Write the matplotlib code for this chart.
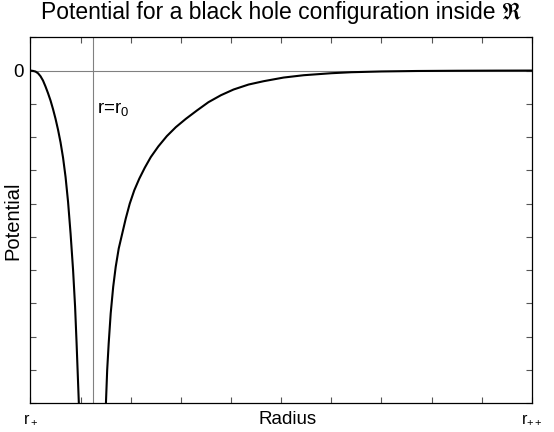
import matplotlib
matplotlib.use("Agg")
import matplotlib.pyplot as plt

plt.rcParams['font.family'] = ['Liberation Sans', 'STIXGeneral', 'DejaVu Sans']
plt.rcParams['mathtext.fontset'] = 'custom'
plt.rcParams['mathtext.rm'] = 'Liberation Sans'
plt.rcParams['mathtext.it'] = 'Liberation Sans'
plt.rcParams['mathtext.default'] = 'regular'

# values (radius and potential in tick units)
left_r = [0, 0.05, 0.10, 0.15, 0.20, 0.25, 0.30, 0.35, 0.40, 0.45, 0.50,
          0.55, 0.60, 0.65, 0.70, 0.75, 0.80, 0.85, 0.89, 0.92, 0.945, 0.965]
left_v = [0, -0.01, -0.03, -0.08, -0.17, -0.3, -0.48, -0.68, -0.9, -1.16, -1.45,
          -1.78, -2.16, -2.62, -3.2, -3.95, -4.9, -6.0, -7.1, -8.2, -9.2, -10.0]
right_r = [1.505, 1.53, 1.56, 1.60, 1.65, 1.70, 1.76, 1.83, 1.90, 1.98, 2.07,
           2.17, 2.28, 2.40, 2.55, 2.72, 2.90, 3.10, 3.32, 3.55, 3.80, 4.05,
           4.35, 4.65, 5.05, 5.45, 6.0, 6.4, 7.0, 7.7, 8.5, 9.3, 10.0]
right_v = [-10.0, -9.0, -8.2, -7.3, -6.5, -5.9, -5.35, -4.9, -4.45, -4.0, -3.6,
           -3.25, -2.92, -2.6, -2.28, -1.97, -1.70, -1.45, -1.2, -0.95, -0.74, -0.57,
           -0.42, -0.32, -0.21, -0.14, -0.08, -0.05, -0.027, -0.013, -0.006, -0.002, 0]
r0 = 1.25
xticks = list(range(0, 11))
yticks = list(range(-10, 2))
xtick_labels = {0: 'r$_+$', 10: 'r$_{++}$'}
ytick_labels = {0: '0'}

fig = plt.figure(figsize=(5.54, 4.32), dpi=100)
ax = fig.add_axes([0.055, 0.0664, 0.905, 0.8473])

ax.axhline(0, color='#808080', lw=0.8, zorder=1)
ax.axvline(r0, color='#808080', lw=0.8, zorder=1)
ax.plot(left_r, left_v, color='black', lw=1.5, zorder=3)
ax.plot(right_r, right_v, color='black', lw=1.5, zorder=3)

ax.set_xlim(0, 10)
ax.set_ylim(-10, 1)
ax.set_xticks(xticks)
ax.set_yticks(yticks)
ax.set_xticklabels([xtick_labels.get(t, '') for t in xticks], fontsize=11.5)
ax.set_yticklabels([ytick_labels.get(t, '') for t in yticks], fontsize=13.5)
ax.tick_params(direction='in', top=True, right=True, length=4, width=0.8, color='#555555')
ax.tick_params(axis='x', pad=6)
ax.tick_params(axis='y', pad=5)
for s in ax.spines.values():
    s.set_linewidth(0.9)

ax.text(1.32, -1.29, 'r=r$_0$', fontsize=13.5, ha='left', va='baseline')

ax.set_xlabel('Radius', fontsize=13.5)
ax.xaxis.set_label_coords(0.513, -0.02)
ax.set_ylabel('Potential', fontsize=14.5)
ax.yaxis.set_label_coords(-0.016, 0.5)

fig.text(281 / 554, 1 - 19 / 432, 'Potential for a black hole configuration inside \u211c',
         fontsize=16.5, ha='center', va='baseline')

fig.savefig('out.png', dpi=100)
